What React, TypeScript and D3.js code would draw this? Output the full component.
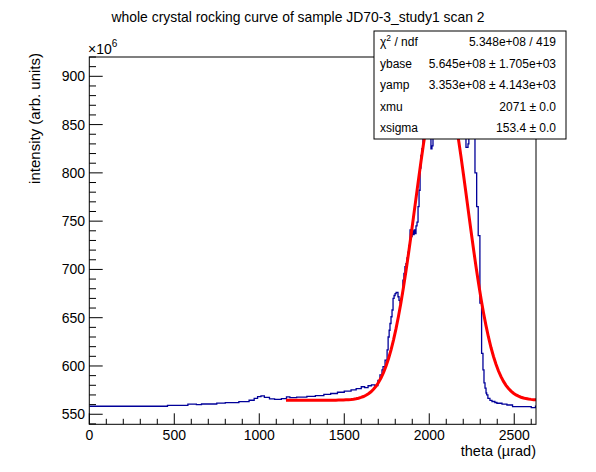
import { useEffect, useRef } from "react";
import * as d3 from "d3";

// histogram: left edge of each step (µrad) and its level (×10^6)
const thetaEdges = [
  0, 460, 580, 630, 660, 750, 800, 880, 940, 970, 990, 1010, 1030, 1060, 1090,
  1130, 1160, 1180, 1220, 1280, 1330, 1380, 1420, 1460, 1500, 1540, 1570, 1600,
  1620, 1640, 1660, 1680, 1698, 1710, 1722, 1728, 1740, 1752, 1758, 1764, 1769,
  1775, 1781, 1787, 1793, 1799, 1805, 1816, 1822, 1828, 1834, 1840, 1845, 1851,
  1857, 1863, 1869, 1875, 1881, 1887, 1893, 1899, 1905, 1911, 1916, 1922, 1928,
  1934, 1940, 1946, 1951, 1957, 1963, 1969, 1975, 1980, 1990, 2000, 2010, 2016,
  2022, 2030, 2060, 2100, 2150, 2190, 2216, 2228, 2233, 2240, 2255, 2269, 2279,
  2288, 2298, 2308, 2316, 2322, 2328, 2334, 2338, 2345, 2357, 2369, 2386, 2398,
  2428, 2457, 2490, 2600, 2625,
];
const intensity = [
  558.3, 559.1, 560.4, 560.0, 560.6, 561.6, 562.0, 563.0, 564.5, 566.5, 568.3,
  569.0, 567.5, 566.0, 565.5, 566.2, 568.0, 567.3, 567.8, 568.5, 569.4, 570.5,
  571.5, 572.8, 574.0, 575.2, 576.5, 578.5, 577.5, 579.5, 580.5, 579.8, 585.0,
  590.7, 596.0, 599.3, 606.0, 616.6, 630.0, 637.0, 644.0, 651.0, 658.0, 670.0,
  673.0, 675.0, 676.3, 671.7, 668.0, 665.0, 670.0, 675.0, 689.0, 696.0, 702.8,
  706.0, 712.0, 718.0, 725.0, 741.0, 734.0, 740.0, 736.0, 741.0, 737.0, 745.0,
  749.0, 765.0, 782.0, 805.0, 818.0, 825.0, 845.0, 870.0, 885.0, 892.0, 898.0,
  900.0, 825.0, 828.0, 880.0, 895.0, 902.0, 906.0, 904.0, 900.0, 826.5, 830.0,
  880.0, 895.0, 890.0, 800.0, 765.0, 735.0, 665.0, 613.0, 596.0, 582.5, 577.0,
  572.0, 570.0, 566.4, 564.3, 563.2, 562.2, 561.4, 560.4, 559.6, 557.9, 556.8,
  558.3,
];
const thetaMax = 2628;

// fit parameters shown in the stats box
const fitBase = 564.5;
const fitAmp = 335.3;
const fitMu = 2071;
const fitSigma = 153.4;
const fitRange = [1157, 2628];
const fitNpx = 100;

const statRows = [
  ["χ2 / ndf", "5.348e+08 / 419"],
  ["ybase", "5.645e+08 ± 1.705e+03"],
  ["yamp", "3.353e+08 ± 4.143e+03"],
  ["xmu", "2071 ± 0.0"],
  ["xsigma", "153.4 ± 0.0"],
];

const xMajor = [0, 500, 1000, 1500, 2000, 2500];
const yMajor = [550, 600, 650, 700, 750, 800, 850, 900];

const W = 596;
const H = 472;
const FONT = "'Liberation Sans', Arial, Helvetica, sans-serif";

export default function App() {
  const ref = useRef(null);

  useEffect(() => {
    const svg = d3.select(ref.current);
    svg.selectAll("*").remove();

    const x = d3.scaleLinear().domain([0, thetaMax]).range([89.3, 536]);
    const y = d3.scaleLinear().domain([539.6, 920]).range([424.3, 57]);
    const [x0, x1] = x.range();
    const [y0, y1] = y.range();

    svg.append("rect").attr("width", W).attr("height", H).attr("fill", "#fff");

    svg
      .append("clipPath")
      .attr("id", "frame")
      .append("rect")
      .attr("x", x0)
      .attr("y", y1)
      .attr("width", x1 - x0)
      .attr("height", y0 - y1);

    const plot = svg.append("g").attr("clip-path", "url(#frame)");

    const pts = thetaEdges.map((t, i) => [t, intensity[i]]);
    pts.push([thetaMax, intensity[intensity.length - 1]]);
    const step = d3
      .line()
      .x((d) => x(d[0]))
      .y((d) => y(d[1]))
      .curve(d3.curveStepAfter);
    plot
      .append("path")
      .attr("d", step(pts))
      .attr("fill", "none")
      .attr("stroke", "#000099")
      .attr("stroke-width", 1.3);

    const fx = d3.range(fitNpx + 1).map(
      (i) => fitRange[0] + ((fitRange[1] - fitRange[0]) * i) / fitNpx
    );
    const fitPts = fx.map((t) => [
      t,
      fitBase + fitAmp * Math.exp(-((t - fitMu) ** 2) / (2 * fitSigma ** 2)),
    ]);
    plot
      .append("path")
      .attr("d", d3.line().x((d) => x(d[0])).y((d) => y(d[1]))(fitPts))
      .attr("fill", "none")
      .attr("stroke", "#ff0000")
      .attr("stroke-width", 3);

    // frame
    svg
      .append("rect")
      .attr("x", x0)
      .attr("y", y1)
      .attr("width", x1 - x0)
      .attr("height", y0 - y1)
      .attr("fill", "none")
      .attr("stroke", "#000")
      .attr("stroke-width", 1);

    // x ticks
    const xt = svg.append("g").attr("stroke", "#000").attr("stroke-width", 1);
    d3.range(0, thetaMax, 100).forEach((v) => {
      const major = v % 500 === 0;
      xt.append("line")
        .attr("x1", x(v))
        .attr("x2", x(v))
        .attr("y1", y0)
        .attr("y2", y0 - (major ? 11 : 5.5));
    });
    svg
      .append("g")
      .selectAll("text")
      .data(xMajor)
      .join("text")
      .attr("x", (d) => x(d))
      .attr("y", 439.5)
      .attr("text-anchor", "middle")
      .attr("font-family", FONT)
      .attr("font-size", 14)
      .text((d) => d);

    // y ticks
    const yt = svg.append("g").attr("stroke", "#000").attr("stroke-width", 1);
    d3.range(540, 921, 10).forEach((v) => {
      const major = v % 50 === 0;
      yt.append("line")
        .attr("x1", x0)
        .attr("x2", x0 + (major ? 13.4 : 6.7))
        .attr("y1", y(v))
        .attr("y2", y(v));
    });
    svg
      .append("g")
      .selectAll("text")
      .data(yMajor)
      .join("text")
      .attr("x", 85)
      .attr("y", (d) => y(d) + 5)
      .attr("text-anchor", "end")
      .attr("font-family", FONT)
      .attr("font-size", 14)
      .text((d) => d);

    // exponent
    const ex = svg
      .append("text")
      .attr("x", 88)
      .attr("y", 54)
      .attr("font-family", FONT)
      .attr("font-size", 14);
    ex.append("tspan").text("×10");
    ex.append("tspan").attr("dy", -7).attr("font-size", 10).text("6");

    // titles
    svg
      .append("text")
      .attr("x", 298)
      .attr("y", 22)
      .attr("text-anchor", "middle")
      .attr("font-family", FONT)
      .attr("font-size", 13.9)
      .text("whole crystal rocking curve of sample JD70-3_study1 scan 2");
    svg
      .append("text")
      .attr("x", x1)
      .attr("y", 456)
      .attr("text-anchor", "end")
      .attr("font-family", FONT)
      .attr("font-size", 14.5)
      .text("theta (µrad)");
    svg
      .append("text")
      .attr("transform", "translate(40,53) rotate(-90)")
      .attr("text-anchor", "end")
      .attr("font-family", FONT)
      .attr("font-size", 15)
      .text("intensity (arb. units)");

    // stats box
    const bx = 374,
      by = 31,
      bw = 192,
      bh = 108;
    const box = svg.append("g");
    box
      .append("rect")
      .attr("x", bx)
      .attr("y", by)
      .attr("width", bw)
      .attr("height", bh)
      .attr("fill", "#fff")
      .attr("stroke", "#000")
      .attr("stroke-width", 1);
    const rh = bh / statRows.length;
    statRows.forEach(([k, v], i) => {
      const cy = by + rh * (i + 0.5) + 4.2;
      const lt = box
        .append("text")
        .attr("x", bx + 6)
        .attr("y", cy)
        .attr("font-family", FONT)
        .attr("font-size", 12);
      if (k.startsWith("χ2")) {
        lt.append("tspan").text("χ");
        lt.append("tspan").attr("dy", -5).attr("font-size", 8.5).text("2");
        lt.append("tspan").attr("dy", 5).text(" / ndf");
      } else {
        lt.text(k);
      }
      box
        .append("text")
        .attr("x", bx + bw - 10)
        .attr("y", cy)
        .attr("text-anchor", "end")
        .attr("font-family", FONT)
        .attr("font-size", 12)
        .text(v);
    });
  }, []);

  return (
    <svg
      ref={ref}
      width={W}
      height={H}
      style={{ position: "absolute", left: 0, top: 0 }}
    />
  );
}
